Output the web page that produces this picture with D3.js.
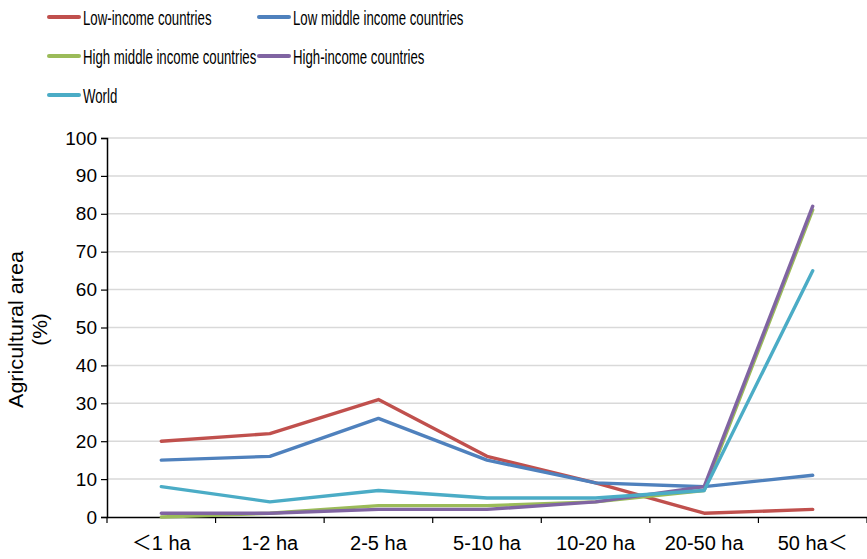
<!DOCTYPE html>
<html>
<head>
<meta charset="utf-8">
<script src="https://cdn.jsdelivr.net/npm/d3@7"></script>
<style>
  html, body { margin: 0; padding: 0; background: #fff; }
  svg { display: block; }
</style>
</head>
<body>
<svg id="chart" width="867" height="559"></svg>
<script>
// Farm size classes
const categories = ["＜1 ha", "1-2 ha", "2-5 ha", "5-10 ha", "10-20 ha", "20-50 ha", "50 ha＜"];

// Share of agricultural area (%) by farm size class
const lowIncome        = [20, 22, 31, 16, 9, 1, 2];
const lowMiddleIncome  = [15, 16, 26, 15, 9, 8, 11];
const highMiddleIncome = [0, 1, 3, 3, 4, 7, 81];
const highIncome       = [1, 1, 2, 2, 4, 8, 82];
const world            = [8, 4, 7, 5, 5, 7, 65];

const seriesNames  = ["Low-income countries", "Low middle income countries",
                      "High middle income countries", "High-income countries", "World"];
const seriesValues = [lowIncome, lowMiddleIncome, highMiddleIncome, highIncome, world];
const seriesColors = ["#C0504D", "#4F81BD", "#9BBB59", "#8064A2", "#4BACC6"];

const yTicks = [0, 10, 20, 30, 40, 50, 60, 70, 80, 90, 100];

const svg = d3.select("#chart");
const margin = { left: 107, right: 0, top: 138, bottom: 42 };
const W = 867, H = 559;

const x = d3.scaleBand().domain(categories).range([margin.left, W - margin.right]);
const y = d3.scaleLinear().domain([0, 100]).range([H - margin.bottom, margin.top]);

const fontAxis = "'Liberation Sans', 'Noto Sans CJK JP', Arial, sans-serif";

// Horizontal gridlines
svg.append("g")
  .selectAll("line")
  .data(yTicks.filter(d => d > 0))
  .join("line")
  .attr("x1", margin.left).attr("x2", W)
  .attr("y1", d => y(d)).attr("y2", d => y(d))
  .attr("stroke", "#d9d9d9").attr("stroke-width", 1.5);

// Y axis
const yAxis = svg.append("g")
  .attr("transform", `translate(${margin.left},0)`)
  .call(d3.axisLeft(y).tickValues(yTicks).tickSize(6).tickPadding(4));
yAxis.select(".domain").attr("stroke", "#000").attr("stroke-width", 1.5);
yAxis.selectAll(".tick line").attr("stroke", "#000").attr("stroke-width", 1.2);
yAxis.selectAll("text").attr("font-family", fontAxis).attr("font-size", 19).attr("fill", "#000");

// X axis
const xAxis = svg.append("g")
  .attr("transform", `translate(0,${y(0)})`)
  .call(d3.axisBottom(x).tickSize(0).tickPadding(19));
xAxis.select(".domain").attr("stroke", "#000").attr("stroke-width", 1.5);
xAxis.selectAll("text").attr("font-family", fontAxis).attr("font-size", 20).attr("fill", "#000");

// Tick marks on category boundaries
const bounds = categories.map(c => x(c)).concat([x(categories[categories.length - 1]) + x.bandwidth()]);
svg.append("g")
  .selectAll("line")
  .data(bounds)
  .join("line")
  .attr("x1", d => d).attr("x2", d => d)
  .attr("y1", y(0)).attr("y2", y(0) + 6)
  .attr("stroke", "#000").attr("stroke-width", 1.2);

// Y axis title (two lines, rotated)
const yTitleX = 16, yTitleY = (y(0) + y(100)) / 2 + 2;
svg.append("text")
  .attr("transform", `translate(${yTitleX + 7},${yTitleY}) rotate(-90)`)
  .attr("text-anchor", "middle")
  .attr("font-family", fontAxis).attr("font-size", 21).attr("fill", "#000")
  .attr("textLength", 157).attr("lengthAdjust", "spacingAndGlyphs")
  .text("Agricultural area");
svg.append("text")
  .attr("transform", `translate(${yTitleX + 31},${yTitleY}) rotate(-90)`)
  .attr("text-anchor", "middle")
  .attr("font-family", fontAxis).attr("font-size", 21).attr("fill", "#000")
  .text("(%)");

// Series lines
const line = d3.line()
  .x((d, i) => x(categories[i]) + x.bandwidth() / 2)
  .y(d => y(d));

svg.append("g")
  .selectAll("path")
  .data(seriesValues)
  .join("path")
  .attr("d", d => line(d))
  .attr("fill", "none")
  .attr("stroke", (d, i) => seriesColors[i])
  .attr("stroke-width", 3.4)
  .attr("stroke-linejoin", "round")
  .attr("stroke-linecap", "round");

// Legend (two columns, condensed lettering)
const legendCondense = 0.645;
const legendPos = [[48, 17], [258, 17], [48, 56], [258, 56], [48, 95]];
const legend = svg.append("g")
  .selectAll("g")
  .data(seriesNames)
  .join("g")
  .attr("transform", (d, i) => `translate(${legendPos[i][0]},${legendPos[i][1]})`);
legend.append("line")
  .attr("x1", 1).attr("x2", 31).attr("y1", 0).attr("y2", 0)
  .attr("stroke", (d, i) => seriesColors[i])
  .attr("stroke-width", 4).attr("stroke-linecap", "round");
legend.append("text")
  .attr("transform", `translate(35,7.5) scale(${legendCondense},1)`)
  .attr("font-family", fontAxis).attr("font-size", 20.5).attr("fill", "#000")
  .text(d => d);
</script>
</body>
</html>
